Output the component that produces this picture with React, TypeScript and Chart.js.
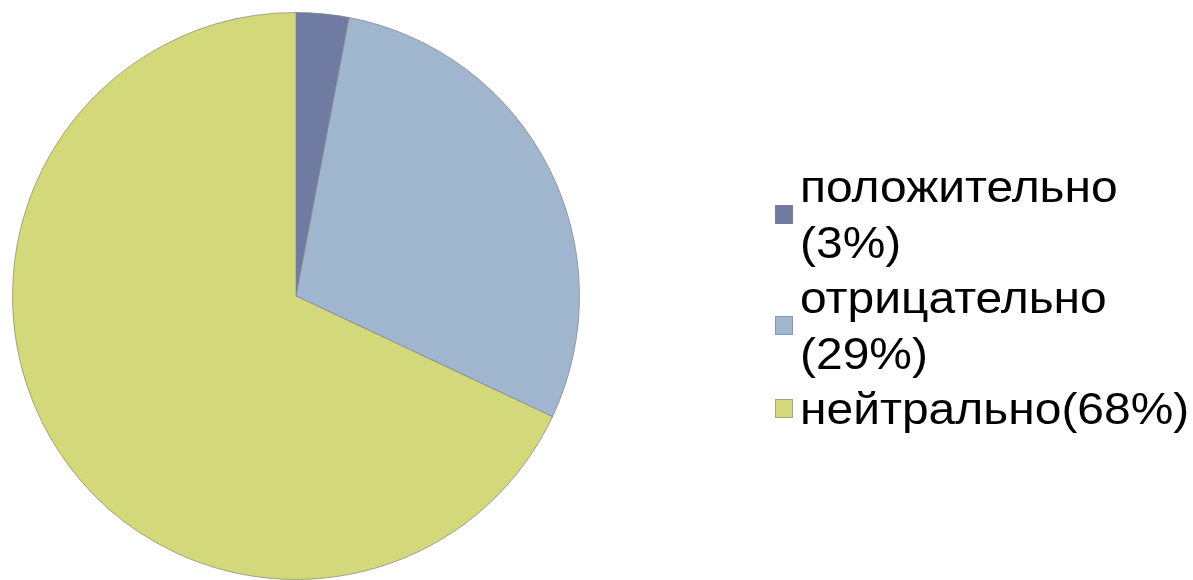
import React, { useEffect, useRef } from "react";
import { Chart, registerables } from "chart.js";

Chart.register(...registerables);

const categories = ["положительно", "отрицательно", "нейтрально"];
const values = [3, 29, 68];
const legendLines = [["положительно", "(3%)"], ["отрицательно", "(29%)"], ["нейтрально(68%)"]];
const colors = ["#6F7BA1", "#A0B6CE", "#D3D97A"];

export default function App() {
  const ref = useRef<HTMLCanvasElement | null>(null);
  useEffect(() => {
    if (!ref.current) return;
    const chart = new Chart(ref.current, {
      type: "pie",
      data: {
        labels: categories,
        datasets: [
          {
            data: values,
            backgroundColor: colors,
            borderColor: "rgba(130,130,130,0.7)",
            borderWidth: 1,
          },
        ],
      },
      options: {
        responsive: false,
        animation: false,
        layout: { padding: { left: 12, top: 12, right: 1193 - 580, bottom: 0 } },
        plugins: { legend: { display: false }, tooltip: { enabled: false } },
      },
    });
    return () => chart.destroy();
  }, []);
  return (
    <div style={{ position: "fixed", left: 0, top: 0, width: 1193, height: 580, background: "#fff" }}>
      <canvas ref={ref} width={1193} height={580} style={{ position: "absolute", left: 0, top: 0 }} />
      <div
        style={{
          position: "absolute",
          left: 775,
          top: 159,
          fontFamily: "'Liberation Sans', Arial, sans-serif",
          fontSize: 44,
          lineHeight: "55.5px",
          color: "#000",
        }}
      >
        {legendLines.map((lines, i) => (
          <div key={i} style={{ display: "flex", alignItems: "center" }}>
            <div
              style={{
                width: 18,
                height: 19,
                flex: "0 0 auto",
                background: colors[i],
                border: "1px solid rgba(130,130,130,0.6)",
                boxSizing: "border-box",
                marginRight: 7,
              }}
            />
            <div style={{ whiteSpace: "nowrap", transform: "scaleX(1.09)", transformOrigin: "left center" }}>
              {lines.map((l, j) => (
                <div key={j}>{l}</div>
              ))}
            </div>
          </div>
        ))}
      </div>
    </div>
  );
}
